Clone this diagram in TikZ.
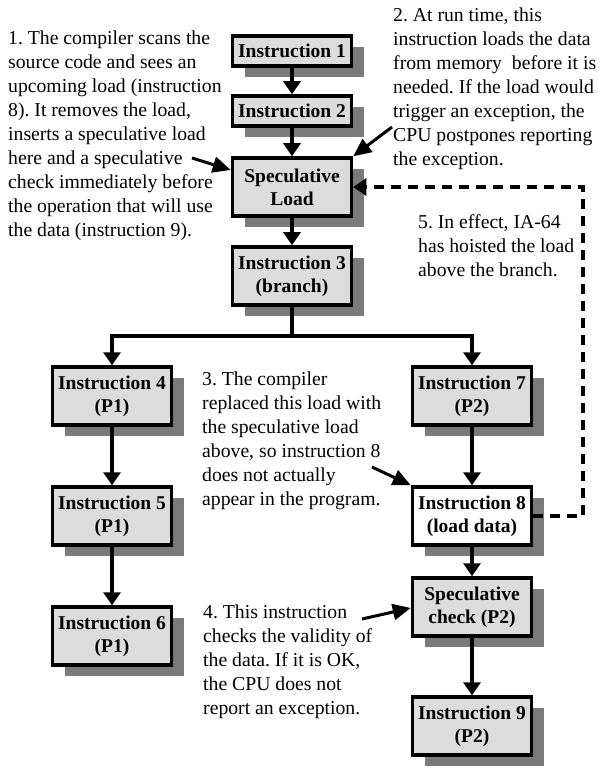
\documentclass[tikz,border=0pt]{standalone}
\usepackage{fontspec}
\setmainfont{Liberation Serif}
\usetikzlibrary{arrows.meta,shadows}
\definecolor{boxfill}{RGB}{220,220,220}
\definecolor{shade}{RGB}{122,122,124}
\frenchspacing
\begin{document}
\begin{tikzpicture}[x=1pt,y=-1pt,
  box/.style={draw=black,line width=3.5pt,fill=boxfill,minimum width=119pt,align=center,inner sep=1pt,
    font=\fontsize{19.5}{23}\selectfont\bfseries,
    drop shadow={shadow xshift=12pt,shadow yshift=-11pt,fill=shade,opacity=1}},
  one/.style={minimum height=30pt},
  two/.style={minimum height=58pt},
  arr/.style={line width=4.5pt,-{Triangle[length=13pt,width=17pt]}},
  ann/.style={line width=3pt,-{Triangle[length=18pt,width=16pt]}},
  dsh/.style={line width=3.5pt,dash pattern=on 10pt off 7pt,-{Triangle[length=13pt,width=17pt]}},
  txt/.style={anchor=north west,align=left,inner sep=0pt,font=\fontsize{19.7}{24}\selectfont\frenchspacing}]
\useasboundingbox (0,0) rectangle (604,775);

\node[box,one] (I1) at (292,51) {Instruction 1};
\node[box,one] (I2) at (292,111) {Instruction 2};
\node[box,two] (SL) at (292,187) {Speculative\\Load};
\node[box,two] (I3) at (292,276) {Instruction 3\\(branch)};
\node[box,two] (I4) at (112,396) {Instruction 4\\(P1)};
\node[box,two] (I5) at (112,516) {Instruction 5\\(P1)};
\node[box,two] (I6) at (112,636) {Instruction 6\\(P1)};
\node[box,two] (I7) at (472,396) {Instruction 7\\(P2)};
\node[box,two,fill=white] (I8) at (472,516) {Instruction 8\\(load data)};
\node[box,two] (SC) at (472,607) {Speculative\\check (P2)};
\node[box,two] (I9) at (472,726) {Instruction 9\\(P2)};

\coordinate (br) at (292,336);
\coordinate (dc) at (583,516);

\draw[arr] (I1) -- (I2);
\draw[arr] (I2) -- (SL);
\draw[arr] (SL) -- (I3);
\draw[line width=4.5pt] (I3.south) -- (br);
\draw[arr,line join=miter] (br) -| (I4.north);
\draw[arr,line join=miter] (br) -| (I7.north);
\draw[arr] (I4) -- (I5);
\draw[arr] (I5) -- (I6);
\draw[arr] (I7) -- (I8);
\draw[arr] (I8) -- (SC);
\draw[arr] (SC) -- (I9);
\draw[dsh] (I8.east) -- (dc) |- (SL.east);

\node[txt] (t1) at (8,30.5) {1. The compiler scans the\\source code and sees an\\upcoming load (instruction\\8). It removes the load,\\inserts a speculative load\\here and a speculative\\check immediately before\\the operation that will use\\the data (instruction 9).};
\node[txt] (t2) at (393,7.5) {2. At run time, this\\instruction loads the data\\from memory\ \ before it is\\needed. If the load would\\trigger an exception, the\\CPU postpones reporting\\the exception.};
\node[txt] (t5) at (418,214.5) {5. In effect, IA-64\\has hoisted the load\\above the branch.};
\node[txt] (t3) at (202,371.5) {3. The compiler\\replaced this load with\\the speculative load\\above, so instruction 8\\does not actually\\appear in the program.};
\node[txt] (t4) at (203,604.5) {4. This instruction\\checks the validity of\\the data. If it is OK,\\the CPU does not\\report an exception.};

\coordinate (a1s) at (192,158);
\coordinate (a2s) at (392,127);
\coordinate (a3s) at (372,467);
\coordinate (a4s) at (362,619);
\draw[ann] (a1s) -- (SL.west |- 0,170);
\draw[ann] (a2s) -- (SL.north east);
\draw[ann] (a3s) -- (I8.north west);
\draw[ann] (a4s) -- (SC.west |- 0,608);
\end{tikzpicture}
\end{document}
